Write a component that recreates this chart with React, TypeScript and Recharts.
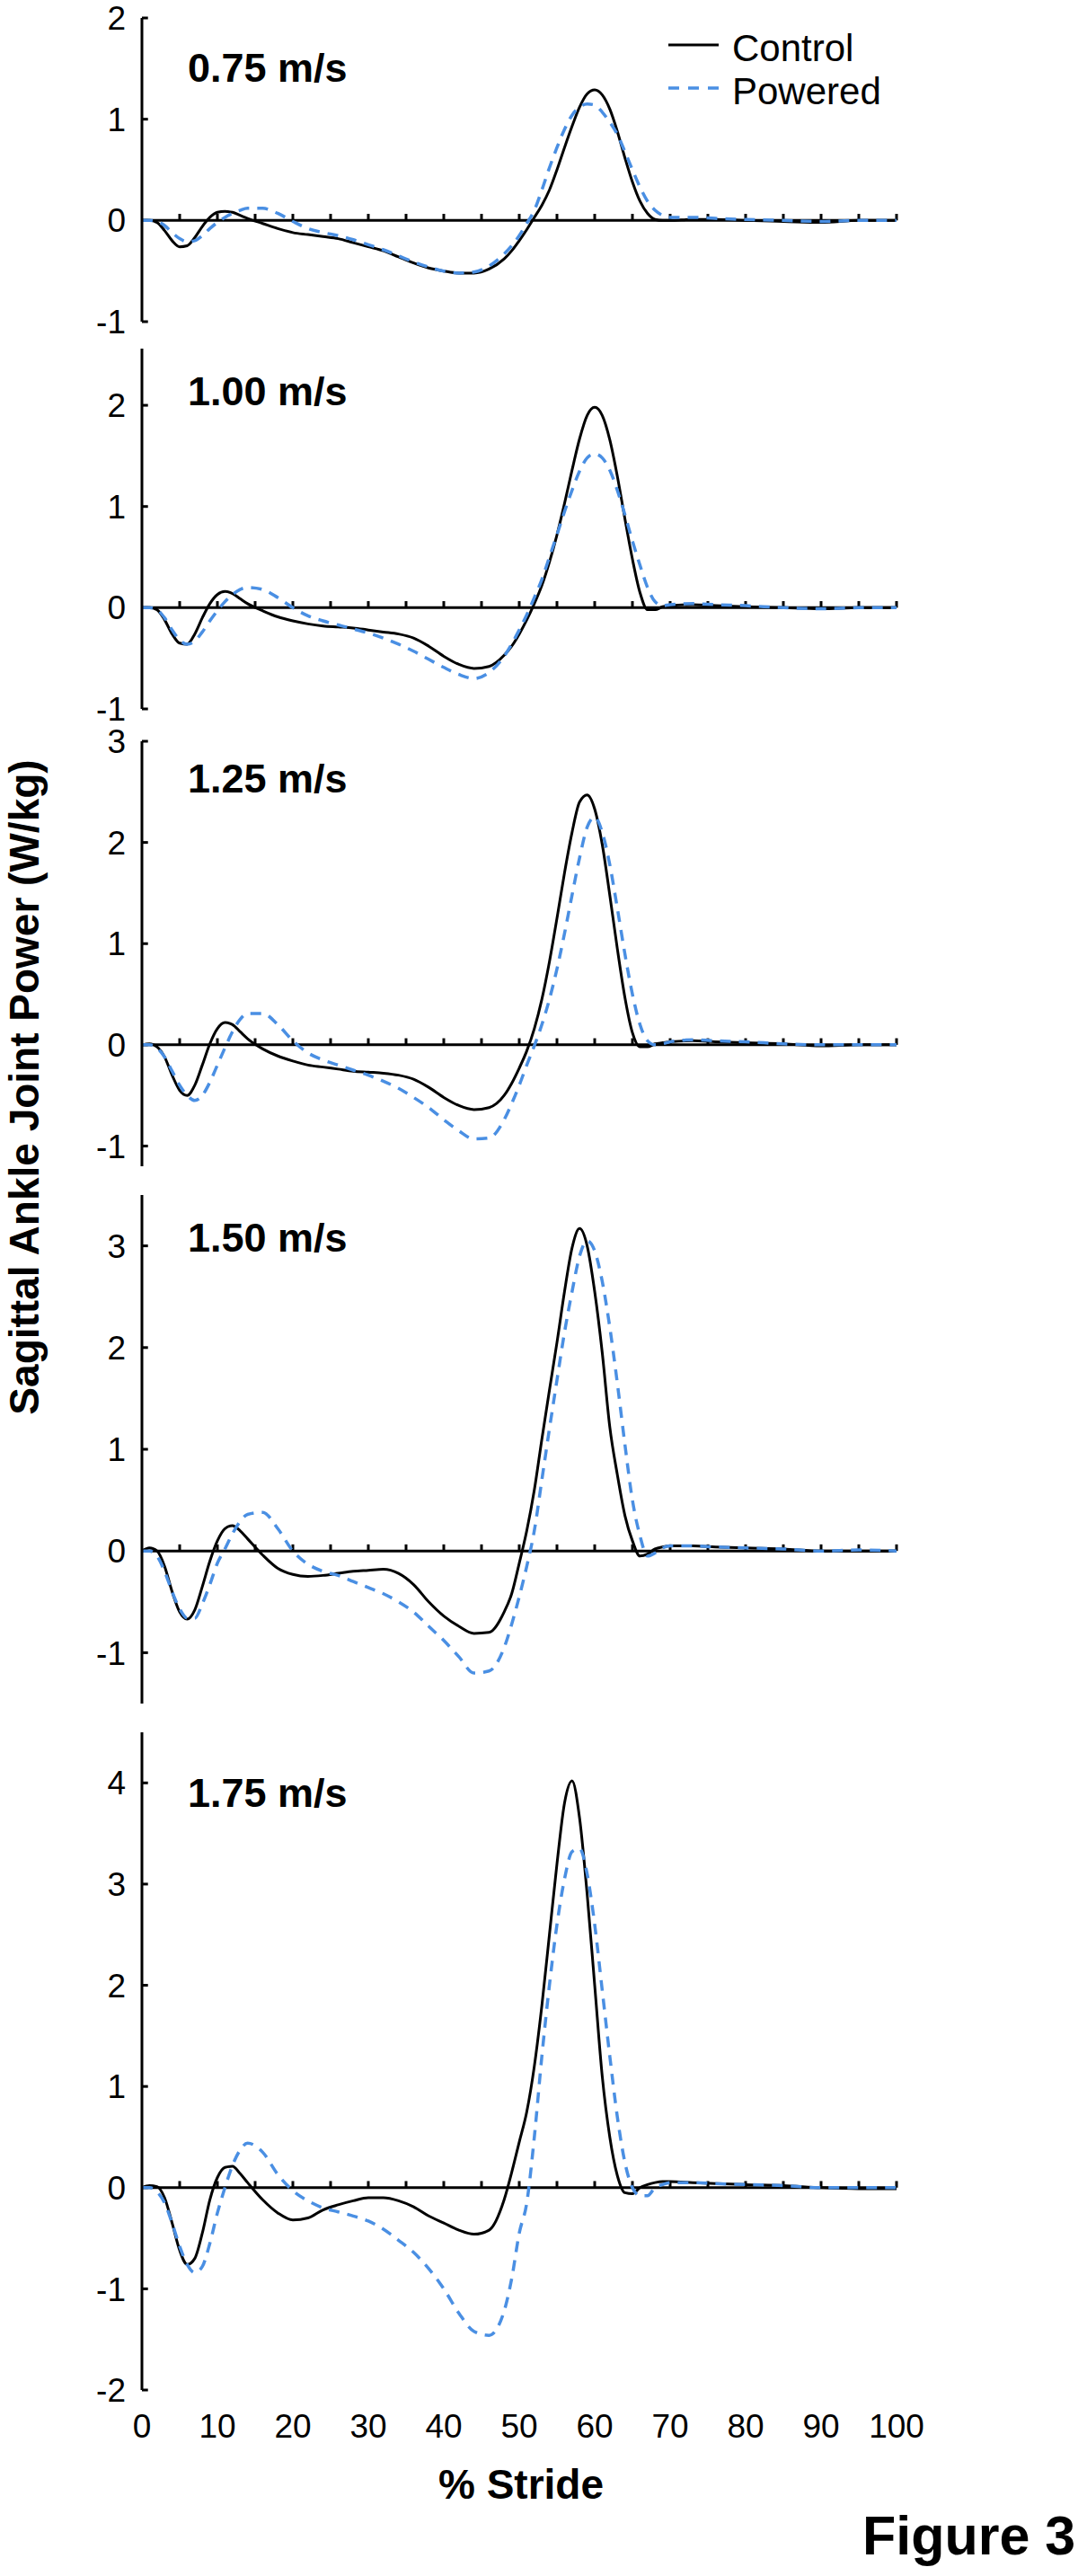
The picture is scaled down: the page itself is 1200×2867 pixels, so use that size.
import React from 'react';
import { LineChart, Line, XAxis, YAxis, ReferenceLine } from 'recharts';

// ---------- data ----------
const STRIDE = [
  0, 1, 2, 3, 4, 5, 6, 7, 8, 9, 10, 11, 12, 13, 14,
  16, 18, 20, 22, 24, 26, 28, 30, 32, 34, 36, 38, 40, 42, 44, 46,
  48, 49, 50, 51, 52, 53, 54, 55, 56, 57, 58, 59, 60, 61, 62, 63, 64, 65, 66, 67, 68, 69, 70,
  73, 76, 80, 85, 90, 95, 100,
];

const CONTROL_075 = [
  0, 0, -0.02, -0.1, -0.2, -0.26, -0.25, -0.17, -0.06, 0.03, 0.08, 0.09, 0.08, 0.05, 0.02,
  -0.03, -0.08, -0.12, -0.14, -0.16, -0.18, -0.22, -0.26, -0.3, -0.36, -0.42, -0.47, -0.5, -0.52, -0.52, -0.48,
  -0.38, -0.3, -0.2, -0.09, 0.03, 0.15, 0.3, 0.5, 0.72, 0.93, 1.12, 1.25, 1.29, 1.24, 1.1, 0.88, 0.62, 0.38, 0.19, 0.07, 0.01, 0, 0,
  0.01, 0.01, 0, -0.01, -0.02, 0, 0,
];
const POWERED_075 = [
  0, 0, -0.01, -0.05, -0.12, -0.18, -0.21, -0.2, -0.15, -0.08, -0.02, 0.03, 0.07, 0.1, 0.12,
  0.12, 0.07, -0.01, -0.08, -0.12, -0.15, -0.19, -0.24, -0.29, -0.35, -0.41, -0.46, -0.5, -0.52, -0.51, -0.45,
  -0.33, -0.25, -0.15, -0.03, 0.1, 0.3, 0.52, 0.72, 0.9, 1.04, 1.12, 1.15, 1.14, 1.07, 0.97, 0.85, 0.68, 0.5, 0.33, 0.19, 0.1, 0.05, 0.03,
  0.03, 0.02, 0.01, 0, -0.01, 0, 0,
];

const CONTROL_100 = [
  0, 0, -0.02, -0.12, -0.26, -0.35, -0.36, -0.26, -0.1, 0.04, 0.13, 0.16, 0.14, 0.09, 0.04,
  -0.03, -0.09, -0.13, -0.16, -0.18, -0.19, -0.2, -0.22, -0.24, -0.26, -0.3, -0.38, -0.48, -0.56, -0.6, -0.58,
  -0.47, -0.38, -0.26, -0.12, 0.04, 0.22, 0.45, 0.72, 1.03, 1.36, 1.67, 1.9, 1.98, 1.9, 1.66, 1.3, 0.88, 0.48, 0.15, -0.02, -0.02, 0.01, 0.02,
  0.03, 0.02, 0.01, 0, -0.01, 0, 0,
];
const POWERED_100 = [
  0, 0, -0.02, -0.1, -0.22, -0.32, -0.36, -0.33, -0.24, -0.13, -0.03, 0.06, 0.13, 0.18, 0.2,
  0.18, 0.1, 0, -0.08, -0.13, -0.17, -0.21, -0.25, -0.3, -0.36, -0.43, -0.51, -0.59, -0.66, -0.7, -0.64,
  -0.48, -0.36, -0.22, -0.07, 0.1, 0.28, 0.5, 0.72, 0.95, 1.16, 1.35, 1.48, 1.52, 1.48, 1.36, 1.16, 0.92, 0.66, 0.42, 0.2, 0.06, 0.02, 0.03,
  0.04, 0.03, 0.02, 0, -0.01, 0, 0,
];

const CONTROL_125 = [
  0, 0.01, -0.02, -0.12, -0.3, -0.45, -0.5, -0.4, -0.2, 0.01, 0.16, 0.22, 0.2, 0.13, 0.06,
  -0.04, -0.11, -0.16, -0.2, -0.22, -0.24, -0.26, -0.27, -0.28, -0.3, -0.34, -0.42, -0.52, -0.6, -0.64, -0.62,
  -0.5, -0.38, -0.23, -0.06, 0.16, 0.45, 0.82, 1.25, 1.7, 2.1, 2.4, 2.47, 2.33, 1.98, 1.48, 0.95, 0.47, 0.12, -0.02, -0.02, 0.01, 0.02, 0.03,
  0.04, 0.03, 0.02, 0.01, -0.01, 0, 0,
];
const POWERED_125 = [
  0, 0, -0.03, -0.12, -0.26, -0.4, -0.5, -0.55, -0.5, -0.37, -0.2, -0.03, 0.13, 0.25, 0.31,
  0.31, 0.2, 0.04, -0.08, -0.15, -0.2, -0.25, -0.3, -0.36, -0.43, -0.52, -0.62, -0.74, -0.85, -0.93, -0.92,
  -0.74, -0.58, -0.4, -0.2, -0.01, 0.2, 0.45, 0.75, 1.1, 1.48, 1.85, 2.15, 2.25, 2.1, 1.78, 1.35, 0.9, 0.5, 0.2, 0.04, 0, 0.01, 0.03,
  0.05, 0.04, 0.03, 0.01, 0, 0, 0,
];

const CONTROL_150 = [
  0, 0.03, 0, -0.15, -0.4, -0.6, -0.67, -0.58, -0.35, -0.1, 0.1, 0.22, 0.25, 0.2, 0.12,
  -0.04, -0.17, -0.23, -0.25, -0.24, -0.22, -0.2, -0.19, -0.18, -0.22, -0.33, -0.5, -0.64, -0.74, -0.81, -0.8,
  -0.6, -0.42, -0.12, 0.2, 0.6, 1.1, 1.58, 2.05, 2.55, 2.98, 3.17, 3.0, 2.55, 1.95, 1.22, 0.75, 0.35, 0.1, -0.05, -0.03, 0.02, 0.04, 0.05,
  0.05, 0.04, 0.03, 0.02, 0, 0, 0,
];
const POWERED_150 = [
  0, 0, -0.05, -0.2, -0.4, -0.57, -0.66, -0.66, -0.52, -0.33, -0.12, 0.02, 0.17, 0.29, 0.36,
  0.38, 0.22, 0, -0.13, -0.2, -0.24, -0.3, -0.36, -0.42, -0.5, -0.6, -0.74, -0.88, -1.04, -1.2, -1.18,
  -0.95, -0.72, -0.45, -0.15, 0.2, 0.7, 1.2, 1.68, 2.15, 2.55, 2.9, 3.05, 2.95, 2.65, 2.2, 1.65, 1.05, 0.5, 0.15, -0.05, -0.02, 0.03, 0.05,
  0.05, 0.04, 0.03, 0.02, 0, 0.01, 0,
];

const CONTROL_175 = [
  0, 0.02, 0.01, -0.1, -0.35, -0.62, -0.76, -0.7, -0.45, -0.12, 0.1, 0.2, 0.21, 0.14, 0.05,
  -0.12, -0.25, -0.32, -0.3, -0.22, -0.17, -0.13, -0.1, -0.1, -0.13, -0.19, -0.28, -0.35, -0.42, -0.46, -0.42,
  -0.12, 0.15, 0.45, 0.75, 1.2, 1.8, 2.5, 3.2, 3.8, 4.02, 3.65, 2.9, 2.0, 1.1, 0.5, 0.12, -0.05, -0.06, 0, 0.03, 0.05, 0.06, 0.06,
  0.05, 0.04, 0.03, 0.02, 0, -0.01, -0.01,
];
const POWERED_175 = [
  0, 0, -0.04, -0.15, -0.35, -0.58, -0.76, -0.84, -0.78, -0.55, -0.25, 0, 0.22, 0.37, 0.44,
  0.35, 0.13, -0.03, -0.13, -0.2, -0.24, -0.28, -0.33, -0.41, -0.52, -0.64, -0.8, -1.0, -1.24, -1.42, -1.46,
  -1.22, -0.9, -0.45, -0.15, 0.5, 1.3, 2.0, 2.6, 3.05, 3.32, 3.35, 3.1, 2.6, 1.95, 1.3, 0.7, 0.25, 0, -0.08, -0.08, 0, 0.03, 0.05,
  0.05, 0.04, 0.03, 0.02, 0, 0, 0,
];

const SPEED_LABELS = ['0.75 m/s', '1.00 m/s', '1.25 m/s', '1.50 m/s', '1.75 m/s'];
const SERIES_NAMES = ['Control', 'Powered'];
const CONTROL_SERIES = [CONTROL_075, CONTROL_100, CONTROL_125, CONTROL_150, CONTROL_175];
const POWERED_SERIES = [POWERED_075, POWERED_100, POWERED_125, POWERED_150, POWERED_175];
const Y_DOMAINS = [[-1, 2], [-1, 2.56], [-1.2, 3], [-1.5, 3.5], [-2, 4.5]];
const Y_TICKS = [[-1, 0, 1, 2], [-1, 0, 1, 2], [-1, 0, 1, 2, 3], [-1, 0, 1, 2, 3], [-2, -1, 0, 1, 2, 3, 4]];
const X_TICKS = [0, 10, 20, 30, 40, 50, 60, 70, 80, 90, 100];
const X_MINOR_TICKS = [5, 10, 15, 20, 25, 30, 35, 40, 45, 50, 55, 60, 65, 70, 75, 80, 85, 90, 95, 100];

// ---------- layout / style ----------
const PLOT_TOP = [20, 388, 825, 1330, 1928];
const PLOT_BOTTOM = [358, 789, 1298, 1896, 2660];
const LABEL_BASELINE = [91, 451, 882, 1393, 2011];
const FONT = '"Liberation Sans", Arial, Helvetica, sans-serif';
const BLUE = '#4a8fe3';
const TICK_UP = 0.065; // data units (~7px)
const TICK_RIGHT = 0.8; // data units (~6px)

function Panel({ i }: { i: number }) {
  const rows = STRIDE.map((x, k) => ({ x, control: CONTROL_SERIES[i][k], powered: POWERED_SERIES[i][k] }));
  const isLast = i === 4;
  const padT = 30;
  const padB = 20;
  const xAxisH = isLast ? 80 : 0;
  const plotH = PLOT_BOTTOM[i] - PLOT_TOP[i];
  const h = plotH + padT + padB + xAxisH;
  return (
    <div style={{ position: 'absolute', left: 0, top: PLOT_TOP[i] - padT, width: 1200, height: h }}>
      <LineChart width={1200} height={h} data={rows} margin={{ top: padT, right: 202, bottom: padB, left: 0 }}>
        <XAxis
          type="number"
          dataKey="x"
          domain={[0, 100]}
          ticks={X_TICKS}
          interval={0}
          hide={!isLast}
          height={isLast ? xAxisH : 0}
          axisLine={false}
          tickLine={false}
          tickSize={0}
          tickMargin={27}
          tick={{ fontSize: 37, fill: '#000', fontFamily: FONT }}
        />
        <YAxis
          type="number"
          domain={Y_DOMAINS[i] as [number, number]}
          ticks={Y_TICKS[i]}
          interval={0}
          allowDataOverflow
          width={158}
          axisLine={{ stroke: '#000', strokeWidth: 3 }}
          tickLine={false}
          tickSize={0}
          tickMargin={18}
          tick={{ fontSize: 37, fill: '#000', fontFamily: FONT }}
        />
        <ReferenceLine y={0} stroke="#000" strokeWidth={3} />
        {X_MINOR_TICKS.map((t) => (
          <ReferenceLine key={'xt' + t} segment={[{ x: t, y: 0 }, { x: t, y: TICK_UP }]} stroke="#000" strokeWidth={3} />
        ))}
        {Y_TICKS[i].map((t) => (
          <ReferenceLine key={'yt' + t} segment={[{ x: 0, y: t }, { x: TICK_RIGHT, y: t }]} stroke="#000" strokeWidth={3} />
        ))}
        <Line
          type="monotone"
          dataKey="control"
          name={SERIES_NAMES[0]}
          stroke="#000"
          strokeWidth={3}
          dot={false}
          isAnimationActive={false}
        />
        <Line
          type="monotone"
          dataKey="powered"
          name={SERIES_NAMES[1]}
          stroke={BLUE}
          strokeWidth={3.5}
          strokeDasharray="12 9"
          dot={false}
          isAnimationActive={false}
        />
      </LineChart>
    </div>
  );
}

export default function App() {
  return (
    <div style={{ position: 'absolute', left: 0, top: 0, width: 1200, height: 2867, background: '#fff', fontFamily: FONT }}>
      {SPEED_LABELS.map((_, i) => (
        <Panel key={i} i={i} />
      ))}
      <svg
        width={1200}
        height={2867}
        style={{ position: 'absolute', left: 0, top: 0, pointerEvents: 'none' }}
        fontFamily={FONT}
      >
        {SPEED_LABELS.map((s, i) => (
          <text key={s} x={209} y={LABEL_BASELINE[i]} fontSize={45} fontWeight="bold" fill="#000">
            {s}
          </text>
        ))}
        <line x1={744} x2={800} y1={50} y2={50} stroke="#000" strokeWidth={3} />
        <text x={815} y={68} fontSize={42} fill="#000">{SERIES_NAMES[0]}</text>
        <line x1={744} x2={800} y1={98} y2={98} stroke={BLUE} strokeWidth={3.5} strokeDasharray="12 10" />
        <text x={815} y={116} fontSize={42} fill="#000">{SERIES_NAMES[1]}</text>
        <text x={580} y={2781} textAnchor="middle" fontSize={46} fontWeight="bold" fill="#000">% Stride</text>
        <text x={960} y={2843} fontSize={61} fontWeight="bold" fill="#000">Figure 3</text>
        <text
          transform="translate(43,1210) rotate(-90)"
          textAnchor="middle"
          fontSize={46}
          fontWeight="bold"
          fill="#000"
        >
          Sagittal Ankle Joint Power (W/kg)
        </text>
      </svg>
    </div>
  );
}
